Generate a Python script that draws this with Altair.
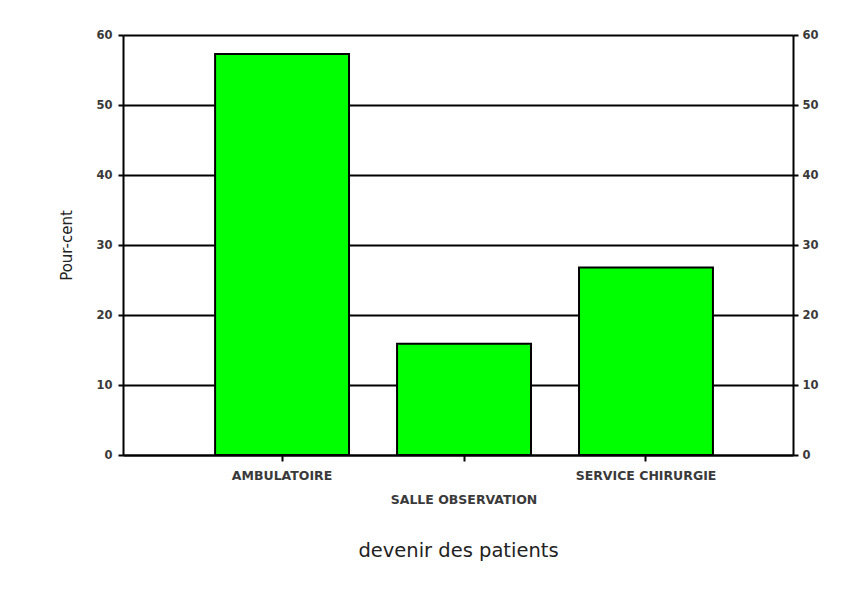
import altair as alt
import pandas as pd

categories = ["AMBULATOIRE", "SALLE OBSERVATION", "SERVICE CHIRURGIE"]
percent = [57.3, 15.9, 26.8]

df = pd.DataFrame({"devenir": categories, "pct": percent})

FONT = "DejaVu Sans"

x_enc = alt.X(
    "devenir:N",
    sort=categories,
    title="devenir des patients",
    scale=alt.Scale(paddingInner=0.264, paddingOuter=0.473, align=0.535),
    axis=alt.Axis(
        labelAngle=0,
        labelExpr="datum.index > 0.3 && datum.index < 0.7 ? ['', datum.label] : datum.label",
        labelLineHeight=24,
        labelPadding=8,
        labelFontSize=12.5,
        labelFontWeight="bold",
        labelColor="#3a3a3a",
        labelFont=FONT,
        tickSize=6,
        tickWidth=2,
        tickColor="black",
        domainColor="black",
        domainWidth=2,
        titleFont=FONT,
        titleFontSize=19.5,
        titleFontWeight="normal",
        titleColor="#222222",
        titlePadding=36,
        grid=False,
    ),
)

y_scale = alt.Scale(domain=[0, 60])

bars = alt.Chart(df).mark_bar(
    color="#00ff00", stroke="black", strokeWidth=2
).encode(
    x=x_enc,
    y=alt.Y(
        "pct:Q",
        title="Pour-cent",
        scale=y_scale,
        axis=alt.Axis(
            orient="left",
            values=[0, 10, 20, 30, 40, 50, 60],
            grid=True,
            gridColor="black",
            gridWidth=1.8,
            gridOpacity=1,
            domainColor="black",
            domainWidth=2,
            tickColor="black",
            tickWidth=2,
            tickSize=5,
            labelFont=FONT,
            labelFontSize=11.5,
            labelFontWeight="bold",
            labelColor="#3a3a3a",
            labelPadding=6,
            titleFont=FONT,
            titleFontSize=15,
            titleFontWeight="normal",
            titleColor="#222222",
            titlePadding=21,
        ),
    ),
)

right = alt.Chart(df).mark_bar(opacity=0).encode(
    x=alt.X("devenir:N", sort=categories),
    y=alt.Y(
        "pct:Q",
        scale=y_scale,
        axis=alt.Axis(
            orient="right",
            title=None,
            values=[0, 10, 20, 30, 40, 50, 60],
            grid=False,
            domainColor="black",
            domainWidth=2,
            tickColor="black",
            tickWidth=2,
            tickSize=5,
            labelFont=FONT,
            labelFontSize=11.5,
            labelFontWeight="bold",
            labelColor="#3a3a3a",
            labelPadding=4,
        ),
    ),
)

chart = (
    alt.layer(bars, right)
    .resolve_axis(y="independent")
    .properties(
        width=670,
        height=420,
        autosize=alt.AutoSizeParams(type="none"),
        padding={"left": 115, "top": 27, "right": 57, "bottom": 127},
        background="white",
    )
    .configure_view(stroke=None)
)

chart.save("out.html", embed_options={"renderer": "svg", "actions": False})
